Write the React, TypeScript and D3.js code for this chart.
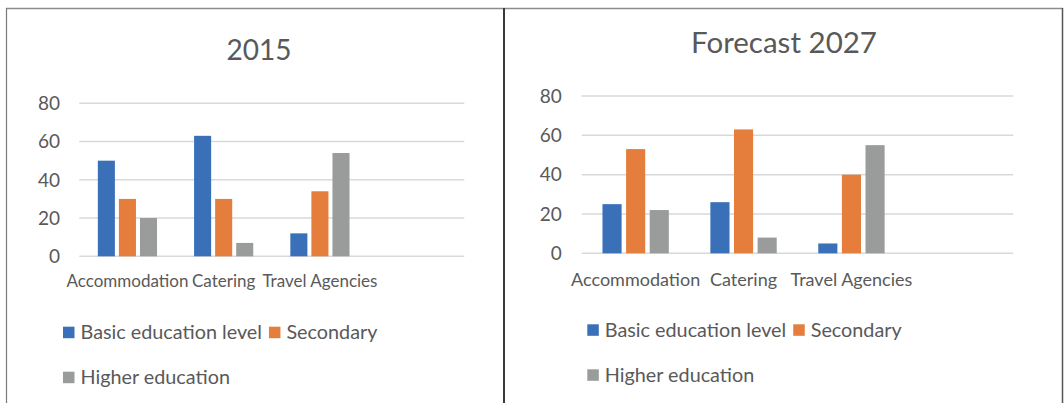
import { useEffect, useRef } from 'react';
import * as d3 from 'd3';

const categories = ['Accommodation', 'Catering', 'Travel Agencies', ''];
const seriesNames = ['Basic education level', 'Secondary', 'Higher education'];
const seriesColors = ['#3a70b8', '#e57d3d', '#9a9c9c'];
const yTicks = [0, 20, 40, 60, 80];

const basic2015 = [50, 63, 12];
const secondary2015 = [30, 30, 34];
const higher2015 = [20, 7, 54];

const basic2027 = [25, 26, 5];
const secondary2027 = [53, 63, 40];
const higher2027 = [22, 8, 55];

const TEXT = '#595959';
const FONT = 'Lato, "Open Sans", sans-serif';

interface PanelLayout {
  title: string;
  series: number[][];
  titleX: number;
  titleY: number;
  titleSize: number;
  plotLeft: number;
  plotRight: number;
  plotTop: number;
  plotBottom: number;
  tickX: number;
  catY: number;
  catSize: number;
  legendX: number;
  legendY: number;
  legendGap: number;
}

const panels: PanelLayout[] = [
  {
    title: '2015',
    series: [basic2015, secondary2015, higher2015],
    titleX: 259, titleY: 60, titleSize: 28,
    plotLeft: 79.3, plotRight: 464.3, plotTop: 103.3, plotBottom: 256.3,
    tickX: 60, catY: 287.3, catSize: 17,
    legendX: 63, legendY: 326.7, legendGap: 45,
  },
  {
    title: 'Forecast 2027',
    series: [basic2027, secondary2027, higher2027],
    titleX: 784, titleY: 52.7, titleSize: 29.5,
    plotLeft: 581.7, plotRight: 1013.3, plotTop: 96, plotBottom: 253.3,
    tickX: 561.7, catY: 285.5, catSize: 18,
    legendX: 587.3, legendY: 324.3, legendGap: 45,
  },
];

function drawPanel(svg: d3.Selection<SVGSVGElement, unknown, null, undefined>, p: PanelLayout) {
  const g = svg.append('g').attr('font-family', FONT);

  g.append('text')
    .attr('x', p.titleX)
    .attr('y', p.titleY)
    .attr('text-anchor', 'middle')
    .attr('fill', TEXT)
    .attr('font-size', p.titleSize)
    .text(p.title);

  const y = d3.scaleLinear().domain([0, 80]).range([p.plotBottom, p.plotTop]);
  const x0 = d3.scaleBand<string>()
    .domain(categories.map((c, i) => `${i}`))
    .range([p.plotLeft, p.plotRight])
    .paddingInner(0.385)
    .paddingOuter(0.1925);
  const x1 = d3.scaleBand<number>()
    .domain(d3.range(seriesNames.length))
    .range([0, x0.bandwidth()])
    .paddingInner(0.19)
    .paddingOuter(0);

  // gridlines + y labels
  const grid = g.append('g');
  yTicks.forEach(t => {
    grid.append('line')
      .attr('x1', p.plotLeft)
      .attr('x2', p.plotRight)
      .attr('y1', y(t))
      .attr('y2', y(t))
      .attr('stroke', '#d9d9d9')
      .attr('stroke-width', 1.5);
    grid.append('text')
      .attr('x', p.tickX)
      .attr('y', y(t))
      .attr('dy', '0.36em')
      .attr('text-anchor', 'end')
      .attr('fill', TEXT)
      .attr('font-size', 19)
      .text(t);
  });

  // bars
  p.series.forEach((vals, s) => {
    g.append('g')
      .selectAll('rect')
      .data(vals)
      .enter()
      .append('rect')
      .attr('x', (_, i) => (x0(`${i}`) ?? 0) + (x1(s) ?? 0))
      .attr('y', d => y(d))
      .attr('width', x1.bandwidth())
      .attr('height', d => y(0) - y(d))
      .attr('fill', seriesColors[s]);
  });

  // category labels
  g.append('g')
    .selectAll('text')
    .data(categories)
    .enter()
    .append('text')
    .attr('x', (_, i) => (x0(`${i}`) ?? 0) + x0.bandwidth() / 2)
    .attr('y', p.catY)
    .attr('text-anchor', 'middle')
    .attr('fill', TEXT)
    .attr('font-size', p.catSize)
    .text(d => d);

  // legend: two items on first row, one on second
  const legend = g.append('g').attr('transform', `translate(${p.legendX}, ${p.legendY})`);
  const box = 11.5;
  let cx = 0;
  seriesNames.forEach((name, i) => {
    const row = i < 2 ? 0 : 1;
    if (i === 2) cx = 0;
    const item = legend.append('g').attr('transform', `translate(${cx}, ${row * p.legendGap})`);
    item.append('rect')
      .attr('width', box)
      .attr('height', box)
      .attr('fill', seriesColors[i]);
    const label = item.append('text')
      .attr('x', box + 6)
      .attr('y', box + 0.8)
      .attr('fill', TEXT)
      .attr('font-size', 19.8)
      .text(name);
    const w = (label.node() as SVGTextElement).getComputedTextLength();
    cx += box + 6 + w + 7;
  });
}

export default function App() {
  const svgRef = useRef<SVGSVGElement>(null);

  useEffect(() => {
    if (!svgRef.current) return;
    const svg = d3.select(svgRef.current);
    svg.selectAll('*').remove();

    svg.append('rect').attr('width', 1064).attr('height', 403).attr('fill', '#fff');

    panels.forEach(p => drawPanel(svg, p));

    // frames
    svg.append('line')
      .attr('x1', 6).attr('x2', 1063).attr('y1', 8.5).attr('y2', 8.5)
      .attr('stroke', '#8c8c8c').attr('stroke-width', 1.5);
    svg.append('line')
      .attr('x1', 6.5).attr('x2', 6.5).attr('y1', 8).attr('y2', 403)
      .attr('stroke', '#7a7a7a').attr('stroke-width', 1.2);
    svg.append('line')
      .attr('x1', 504).attr('x2', 504).attr('y1', 8).attr('y2', 403)
      .attr('stroke', '#3a3a3a').attr('stroke-width', 2);
    svg.append('line')
      .attr('x1', 1062.5).attr('x2', 1062.5).attr('y1', 8).attr('y2', 403)
      .attr('stroke', '#555').attr('stroke-width', 1.5);
  }, []);

  return (
    <svg
      ref={svgRef}
      width={1064}
      height={403}
      style={{ position: 'absolute', left: 0, top: 0, display: 'block' }}
    />
  );
}
